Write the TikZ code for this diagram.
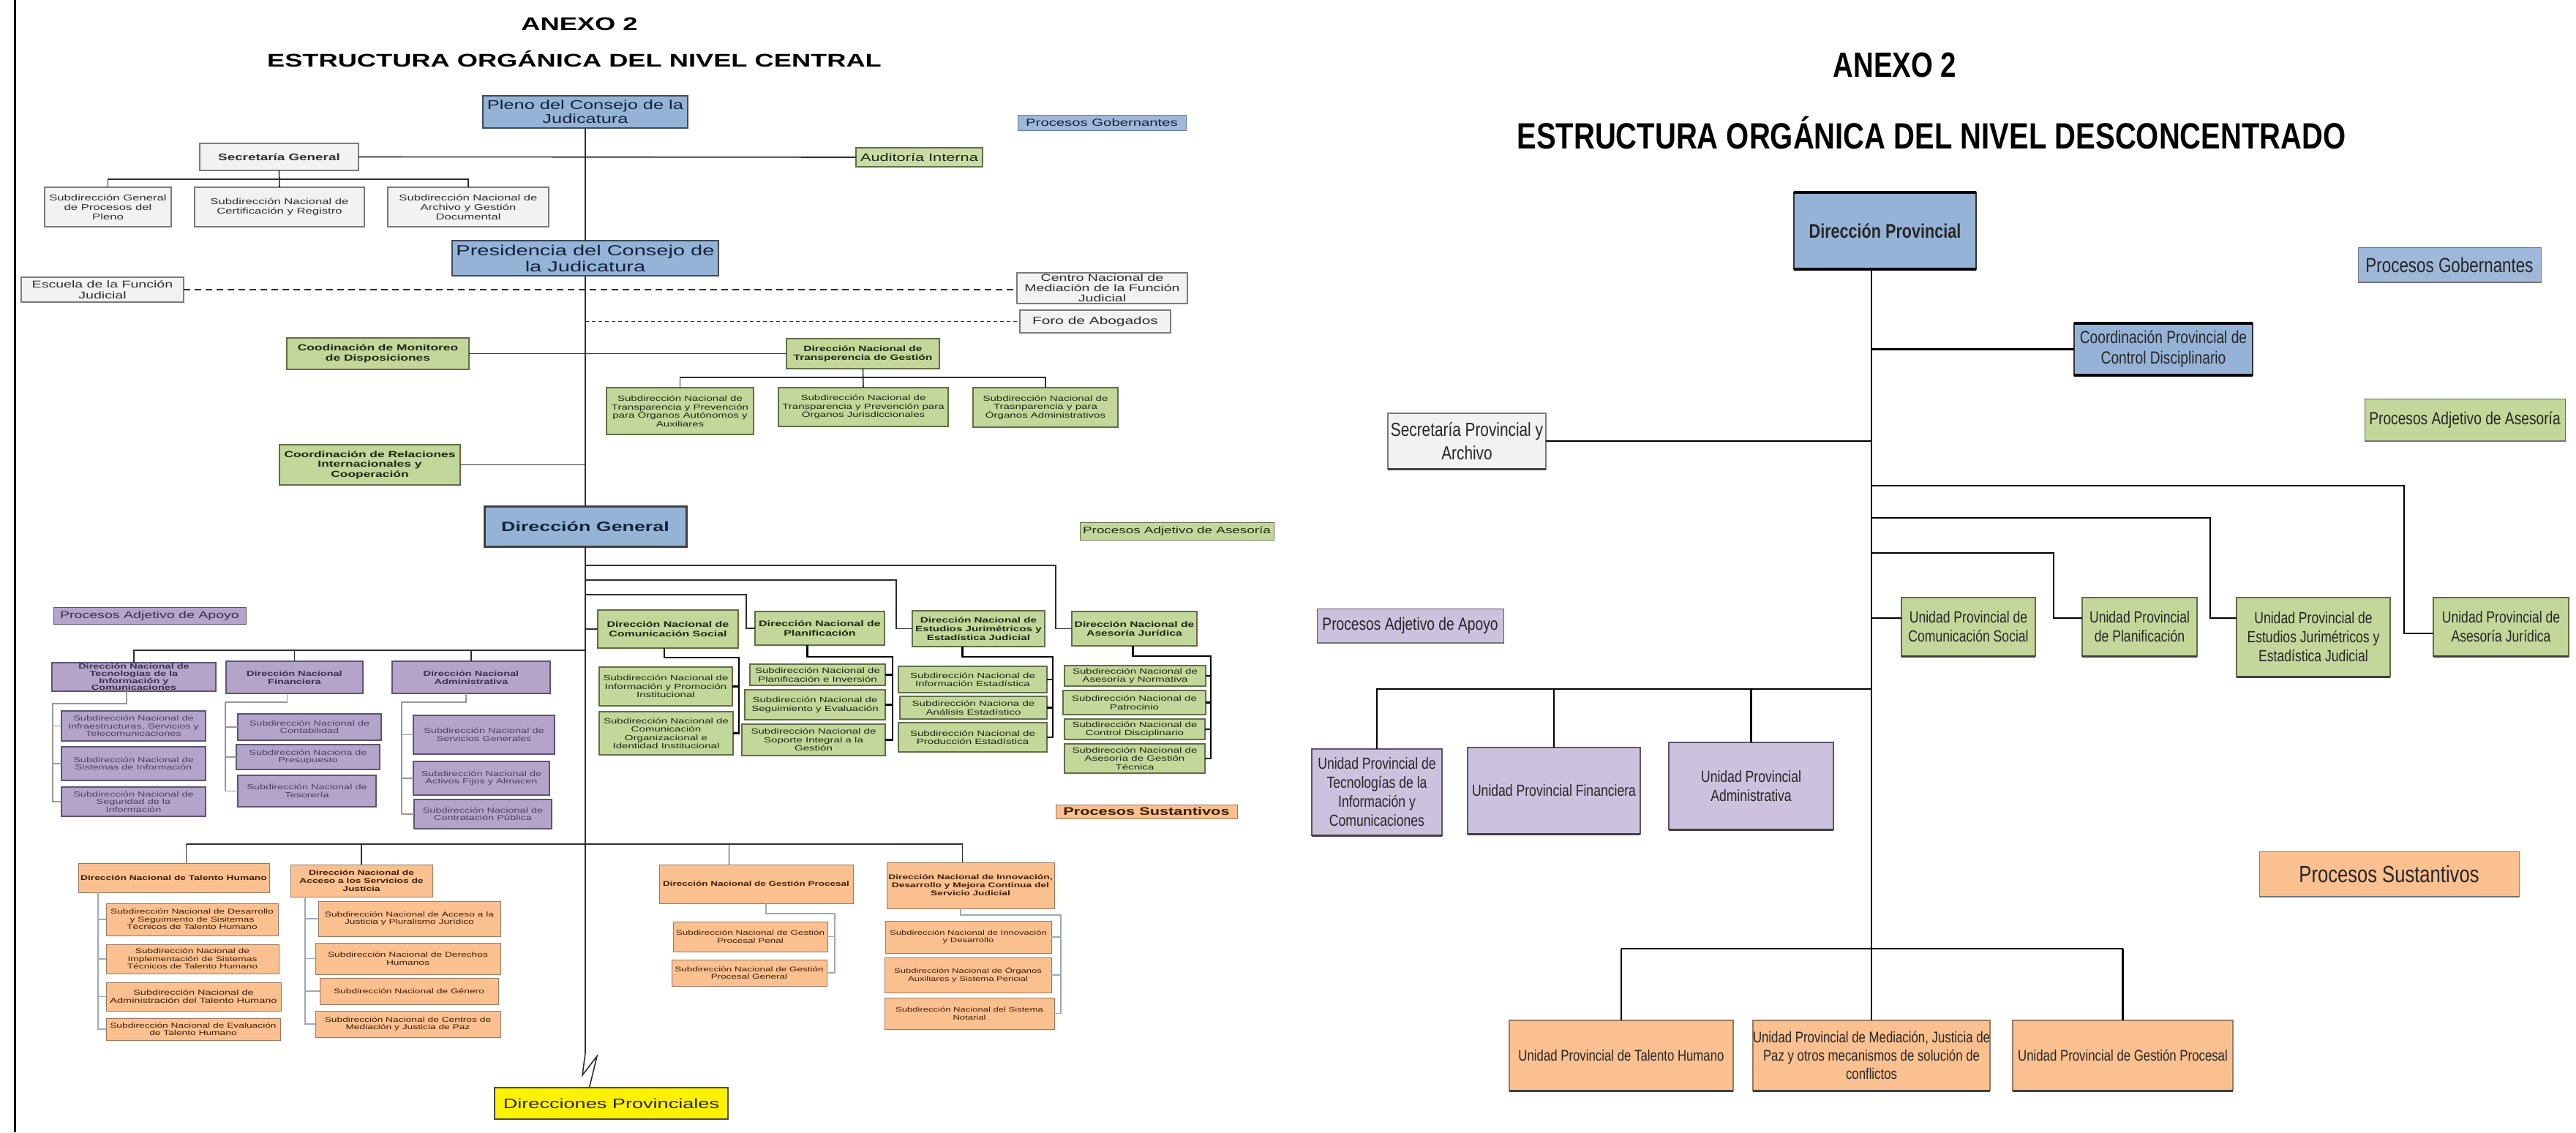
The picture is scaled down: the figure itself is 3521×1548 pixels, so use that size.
\documentclass[tikz,border=0pt]{standalone}
\usepackage{fontspec}
\setmainfont{Liberation Sans}
\newfontfamily\lpfont[FakeStretch=1.45]{Liberation Sans}
\newfontfamily\rpfont[FakeStretch=0.8]{Liberation Sans}
\newcommand\fsz[2]{\fontsize{#1}{#2}\selectfont}
\newcommand\mkbox[7]{\node[#6,minimum width={(#4-#2)*1pt},minimum height={(#5-#3)*1pt}] (#1) at ({(#2+#4)/2},{(#3+#5)/2}) {#7};}
\definecolor{bluF}{HTML}{95B3D7}
\definecolor{bluL}{HTML}{9FB8D9}
\definecolor{bluD}{HTML}{3E4A5C}
\definecolor{bluT}{HTML}{13233A}
\definecolor{grnF}{HTML}{C4D79B}
\definecolor{grnD}{HTML}{5F6F45}
\definecolor{grnT}{HTML}{1D2811}
\definecolor{purF}{HTML}{B4A4C9}
\definecolor{purD}{HTML}{5E5470}
\definecolor{purT}{HTML}{3B2E50}
\definecolor{purS}{HTML}{4F4166}
\definecolor{ornF}{HTML}{FAC090}
\definecolor{ornD}{HTML}{9A7A60}
\definecolor{ornT}{HTML}{3D1E05}
\definecolor{gryF}{HTML}{F2F2F2}
\definecolor{gryD}{HTML}{7A7A7A}
\definecolor{gryT}{HTML}{2E2E2E}
\definecolor{rpurF}{HTML}{CCC2DE}
\definecolor{lineC}{HTML}{2E2E2E}
\definecolor{oline}{HTML}{9AA8BC}
\begin{document}
\begin{tikzpicture}[x=1pt,y=-1pt,
  bxbase/.style={rectangle,align=center,inner sep=1pt,outer sep=0pt},
  gbox/.style={bxbase,fill=gryF,draw=gryD,line width=1.2pt,text=gryT},
  bbox/.style={bxbase,fill=bluF,draw=bluD,line width=2.2pt,text=bluT},
  grbox/.style={bxbase,fill=grnF,draw=grnD,line width=1.2pt,text=grnT},
  pbox/.style={bxbase,fill=purF,draw=purD,line width=1.2pt,text=purT},
  obox/.style={bxbase,fill=ornF,draw=ornD,line width=1pt,text=ornT},
  gsub/.style={grbox,font=\lpfont\fsz{10.4}{11.5}},
  ghead/.style={grbox,font=\lpfont\bfseries\fsz{11}{12.5}},
  phead/.style={pbox,font=\lpfont\bfseries\fsz{10}{9.8}},
  psub/.style={pbox,text=purS,font=\lpfont\fsz{10}{10.5}},
  ohead/.style={obox,font=\lpfont\bfseries\fsz{9.5}{11}},
  osub/.style={obox,font=\lpfont\fsz{9.5}{10.5}},
  graysub/.style={gbox,font=\lpfont\fsz{11.5}{13}},
  rbox/.style={bxbase,line width=1.5pt,text=black!85,font=\rpfont\fsz{22}{26}},
  rb/.style={rbox,fill=bluF,draw=black!80},
  rg/.style={rbox,fill=grnF,draw=grnD},
  rp/.style={rbox,fill=rpurF,draw=purD},
  ro/.style={rbox,fill=ornF,draw=ornD},
  rgy/.style={rbox,fill=gryF,draw=gryD},
  conn/.style={draw=lineC,line width=1.6pt},
  gconn/.style={draw=black,line width=2.2pt},
  lconn/.style={draw=gray!80,line width=1.3pt},
  oconn/.style={draw=oline,line width=1.3pt},
  rconn/.style={draw=black,line width=2.6pt}]
\useasboundingbox (0,0) rectangle (3521,1548);
\fill[white] (0,0) rectangle (3521,1548);
\draw[line width=3pt] (20,0) -- (20,1548);
% ---------------- LEFT PANEL ----------------
\node[font=\lpfont\bfseries\fsz{25}{30}] (anexoL) at (792,33) {ANEXO 2};
\node[font=\lpfont\bfseries\fsz{25}{30}] (titleL) at (785,81) {ESTRUCTURA ORGÁNICA DEL NIVEL CENTRAL};
\mkbox{pleno}{660}{131}{940}{175}{bbox,line width=1.8pt,font=\lpfont\fsz{17.5}{19}}{Pleno del Consejo de la\\Judicatura}
\mkbox{pgob}{1391}{157}{1621}{178}{bxbase,fill=bluL,draw=bluF!70!black,line width=1pt,text=bluT,font=\lpfont\fsz{14}{16}}{Procesos Gobernantes}
\mkbox{sec}{273}{196}{490}{233}{gbox,font=\lpfont\bfseries\fsz{13}{15}}{Secretaría General}
\mkbox{aud}{1170}{202}{1343}{228}{grbox,fill=grnF!90!white,font=\lpfont\fsz{15}{17}}{Auditoría Interna}
\mkbox{s1}{61}{256}{234}{310}{graysub}{Subdirección General\\de Procesos del\\Pleno}
\mkbox{s2}{266}{256}{498}{310}{graysub}{Subdirección Nacional de\\Certificación y Registro}
\mkbox{s3}{530}{256}{750}{310}{graysub}{Subdirección Nacional de\\Archivo y Gestión\\Documental}
\mkbox{pres}{618}{329}{982}{377}{bbox,line width=2.6pt,font=\lpfont\fsz{20}{22}}{Presidencia del Consejo de\\la Judicatura}
\mkbox{esc}{29}{379}{251}{413}{gbox,font=\lpfont\fsz{13.5}{15}}{Escuela de la Función\\Judicial}
\mkbox{cen}{1390}{373}{1623}{415}{gbox,font=\lpfont\fsz{13.5}{14}}{Centro Nacional de\\Mediación de la Función\\Judicial}
\mkbox{foro}{1394}{424}{1600}{455}{gbox,font=\lpfont\fsz{14.4}{16}}{Foro de Abogados}
\mkbox{mon}{392}{462}{641}{505}{grbox,font=\lpfont\bfseries\fsz{12}{13.5}}{Coodinación de Monitoreo\\de Disposiciones}
\mkbox{trans}{1075}{463}{1284}{504}{grbox,font=\lpfont\bfseries\fsz{10.7}{12.5}}{Dirección Nacional de\\Transperencia de Gestión}
\mkbox{t1}{829}{530}{1030}{594}{gsub}{Subdirección Nacional de\\Transparencia y Prevención\\para Órganos Autónomos y\\Auxiliares}
\mkbox{t2}{1064}{530}{1296}{583}{gsub}{Subdirección Nacional de\\Transparencia y Prevención para\\Órganos Jurisdiccionales}
\mkbox{t3}{1330}{530}{1528}{584}{gsub}{Subdirección Nacional de\\Trasnparencia y para\\Órganos Administrativos}
\mkbox{rel}{382}{608}{629}{663}{grbox,font=\lpfont\bfseries\fsz{12}{13.5}}{Coordinación de Relaciones\\Internacionales y\\Cooperación}
\mkbox{dg}{662}{692}{938}{747}{bbox,line width=3pt,draw=black!75,font=\lpfont\bfseries\fsz{18.5}{20}}{Dirección General}
\mkbox{pasL}{1476}{714}{1741}{738}{grbox,line width=1pt,font=\lpfont\fsz{13}{15}}{Procesos Adjetivo de Asesoría}
\mkbox{papL}{73}{830}{336}{853}{pbox,line width=1pt,font=\lpfont\fsz{13.5}{15}}{Procesos Adjetivo de Apoyo}
% green heads
\mkbox{com}{817}{834}{1009}{886}{ghead}{Dirección Nacional de\\Comunicación Social}
\mkbox{pla}{1032}{836}{1209}{882}{ghead}{Dirección Nacional de\\Planificación}
\mkbox{est}{1247}{835}{1428}{884}{ghead,font=\lpfont\bfseries\fsz{10.5}{12.3}}{Dirección Nacional de\\Estudios Jurimétricos y\\Estadística Judicial}
\mkbox{ase}{1465}{836}{1636}{883}{ghead,font=\lpfont\bfseries\fsz{10.8}{12.5}}{Dirección Nacional de\\Asesoría Jurídica}
% green subs
\mkbox{c1}{819}{912}{1001}{965}{gsub}{Subdirección Nacional de\\Información y Promoción\\Institucional}
\mkbox{c2}{819}{973}{1002}{1032}{gsub}{Subdirección Nacional de\\Comunicación\\Organizacional e\\Identidad Institucional}
\mkbox{p1}{1025}{908}{1210}{937}{gsub}{Subdirección Nacional de\\Planificación e Inversión}
\mkbox{p2}{1018}{943}{1210}{984}{gsub}{Subdirección Nacional de\\Seguimiento y Evaluación}
\mkbox{p3}{1014}{990}{1210}{1033}{gsub}{Subdirección Nacional de\\Soporte Integral a la\\Gestión}
\mkbox{e1}{1228}{911}{1431}{947}{gsub}{Subdirección Nacional de\\Información Estadística}
\mkbox{e2}{1230}{952}{1431}{983}{gsub}{Subdirección Naciona de\\Análisis Estadístico}
\mkbox{e3}{1228}{988}{1431}{1028}{gsub}{Subdirección Nacional de\\Producción Estadística}
\mkbox{a1}{1455}{910}{1648}{938}{gsub}{Subdirección Nacional de\\Asesoría y Normativa}
\mkbox{a2}{1453}{944}{1648}{977}{gsub}{Subdirección Nacional de\\Patrocinio}
\mkbox{a3}{1455}{983}{1647}{1011}{gsub}{Subdirección Nacional de\\Control Disciplinario}
\mkbox{a4}{1455}{1017}{1647}{1057}{gsub}{Subdirección Nacional de\\Asesoría de Gestión\\Técnica}
% purple
\mkbox{tic}{71}{906}{295}{945}{phead}{Dirección Nacional de\\Tecnologías de la\\Información y\\Comunicaciones}
\mkbox{fin}{309}{904}{496}{948}{phead,font=\lpfont\bfseries\fsz{10}{11}}{Dirección Nacional\\Financiera}
\mkbox{adm}{536}{904}{752}{948}{phead,font=\lpfont\bfseries\fsz{10}{11}}{Dirección Nacional\\Administrativa}
\mkbox{i1}{84}{972}{281}{1013}{psub}{Subdirección Nacional de\\Infraestructuras, Servicios y\\Telecomunicaciones}
\mkbox{i2}{84}{1021}{281}{1067}{psub}{Subdirección Nacional de\\Sistemas de Información}
\mkbox{i3}{84}{1076}{281}{1116}{psub}{Subdirección Nacional de\\Seguridad de la\\Información}
\mkbox{f1}{325}{976}{521}{1012}{psub}{Subdirección Nacional de\\Contabilidad}
\mkbox{f2}{323}{1018}{519}{1052}{psub}{Subdirección Naciona de\\Presupuesto}
\mkbox{f3}{325}{1060}{514}{1103}{psub}{Subdirección Nacional de\\Tesorería}
\mkbox{d1}{565}{978}{758}{1031}{psub}{Subdirección Nacional de\\Servicios Generales}
\mkbox{d2}{565}{1041}{751}{1087}{psub}{Subdirección Nacional de\\Activos Fijos y Almacen}
\mkbox{d3}{566}{1093}{754}{1133}{psub}{Subdirección Nacional de\\Contratación Pública}
% orange
\mkbox{pSusL}{1443}{1100}{1691}{1119}{obox,font=\lpfont\bfseries\fsz{15}{16}}{Procesos Sustantivos}
\mkbox{th}{107}{1180}{368}{1220}{ohead}{Dirección Nacional de Talento Humano}
\mkbox{acc}{397}{1182}{591}{1226}{ohead}{Dirección Nacional de\\Acceso a los Servicios de\\Justicia}
\mkbox{gp}{901}{1182}{1166}{1235}{ohead,font=\lpfont\bfseries\fsz{9.3}{11}}{Dirección Nacional de Gestión Procesal}
\mkbox{inn}{1212}{1179}{1441}{1242}{ohead}{Dirección Nacional de Innovación,\\Desarrollo y Mejora Continua del\\Servicio Judicial}
\mkbox{o1}{145}{1235}{380}{1279}{osub}{Subdirección Nacional de Desarrollo\\y Seguimiento de Sisitemas\\Técnicos de Talento Humano}
\mkbox{o2}{145}{1291}{381}{1331}{osub}{Subdirección Nacional de\\Implementación de Sistemas\\Técnicos de Talento Humano}
\mkbox{o3}{145}{1343}{384}{1382}{osub,font=\lpfont\fsz{10}{11.5}}{Subdirección Nacional de\\Administración del Talento Humano}
\mkbox{o4}{145}{1392}{383}{1422}{osub}{Subdirección Nacional de Evaluación\\de Talento Humano}
\mkbox{o5}{435}{1232}{684}{1280}{osub}{Subdirección Nacional de Acceso a la\\Justicia y Pluralismo Jurídico}
\mkbox{o6}{431}{1289}{684}{1332}{osub}{Subdirección Nacional de Derechos\\Humanos}
\mkbox{o7}{437}{1337}{681}{1373}{osub}{Subdirección Nacional de Género}
\mkbox{o8}{431}{1382}{684}{1418}{osub}{Subdirección Nacional de Centros de\\Mediación y Justicia de Paz}
\mkbox{g1}{920}{1260}{1131}{1301}{osub,font=\lpfont\fsz{9.3}{10.5}}{Subdirección Nacional de Gestión\\Procesal Penal}
\mkbox{g2}{918}{1312}{1130}{1348}{osub,font=\lpfont\fsz{9.3}{10.5}}{Subdirección Nacional de Gestión\\Procesal General}
\mkbox{n1}{1210}{1259}{1437}{1303}{osub,font=\lpfont\fsz{9}{10.5}}{Subdirección Nacional de Innovación\\y Desarrollo}
\mkbox{n2}{1209}{1309}{1437}{1357}{osub,font=\lpfont\fsz{9}{10.5}}{Subdirección Nacional de Órganos\\Auxiliares y Sistema Pericial}
\mkbox{n3}{1209}{1364}{1441}{1407}{osub,font=\lpfont\fsz{9}{10.5}}{Subdirección Nacional del Sistema\\Notarial}
\mkbox{dp}{676}{1487}{995}{1530}{bxbase,fill=yellow,draw=black!70,line width=1.6pt,text=black!85,font=\lpfont\fsz{18.7}{20}}{Direcciones Provinciales}
% ---- left connectors ----
\draw[conn] (pleno.south) -- (pres.north);
\draw[conn] (pres.south) -- (dg.north);
\draw[conn] (sec.east) -- (aud.west);
\draw[conn] (sec.south) -- ++(0,12) -| (s1.north);
\draw[conn] (sec.south) -- ++(0,12) -| (s3.north);
\draw[conn] (sec.south) -- (s2.north);
\draw[conn,dash pattern=on 9pt off 6pt] (esc.east) -- (esc.east -| cen.west);
\draw[conn,line width=1.3pt,dash pattern=on 5pt off 4pt] (foro.west -| dg.north) -- (foro.west);
\draw[conn] (mon.east) -- (mon.east -| trans.west);
\draw[conn] (trans.south) -- ++(0,12) -| (t1.north);
\draw[conn] (trans.south) -- ++(0,12) -| (t3.north);
\draw[conn] (trans.south) -- (t2.north);
\draw[conn] (rel.east) -- (rel.east -| dg.north);
\coordinate (hA) at (0,773);
\coordinate (hB) at (0,793);
\coordinate (hC) at (0,813);
\coordinate (hP) at (0,889);
\coordinate (hO) at (0,1154);
\coordinate (asev) at ([xshift=-22pt]ase.west);
\coordinate (estv) at ([xshift=-22pt]est.west);
\coordinate (plav) at ([xshift=-12pt]pla.west);
\draw[conn] (dg.south |- hA) -| (asev) -- (ase.west);
\draw[conn] (dg.south |- hB) -| (estv) -- (est.west);
\draw[conn] (dg.south |- hC) -| (plav) -- (pla.west);
\draw[conn] (com.west -| dg.south) -- (com.west);
\draw[conn] (dg.south |- hP) -| (tic.north);
\draw[conn] (dg.south |- hP) -| (fin.north);
\draw[conn] (dg.south |- hP) -| (adm.north);
\coordinate (brk) at (800,1440);
\coordinate (dpin) at ([xshift=-30pt]dp.north);
\draw[conn] (dg.south) -- (brk) -- ++(-4,30) -- ++(20,-26) -- (dpin);
% orange main bar
\coordinate (thd) at ([xshift=17pt]th.north);
\coordinate (gpd) at ([xshift=-37pt]gp.north);
\coordinate (innd) at ([xshift=-11pt]inn.north);
\draw[conn] (thd |- hO) -- (innd |- hO);
\draw[conn] (thd |- hO) -- (thd);
\draw[conn] (acc.north |- hO) -- (acc.north);
\draw[conn] (gpd |- hO) -- (gpd);
\draw[conn] (innd |- hO) -- (innd);
% green subtrees
\coordinate (comd) at ([xshift=-5pt]com.south);
\coordinate (comv) at ([xshift=8pt]c2.east);
\draw[gconn] (comd) -- ++(0,13) -| (comv) -- (c2.east);
\draw[gconn] (comv |- c1.east) -- (c1.east);
\coordinate (plad) at ([xshift=-17pt]pla.south);
\coordinate (plsv) at ([xshift=10pt]p3.east);
\draw[gconn] (plad) -- ++(0,16) -| (plsv) -- (p3.east);
\draw[gconn] (plsv |- p1.east) -- (p1.east);
\draw[gconn] (plsv |- p2.east) -- (p2.east);
\coordinate (estd) at ([xshift=-22pt]est.south);
\coordinate (essv) at ([xshift=8pt]e3.east);
\draw[gconn] (estd) -- ++(0,14) -| (essv) -- (e3.east);
\draw[gconn] (essv |- e1.east) -- (e1.east);
\draw[gconn] (essv |- e2.east) -- (e2.east);
\coordinate (ased) at ([xshift=-2pt]ase.south);
\coordinate (assv) at ([xshift=8pt]a4.east);
\draw[gconn] (ased) -- ++(0,14) -| (assv) -- (a4.east);
\draw[gconn] (assv |- a1.east) -- (a1.east);
\draw[gconn] (assv |- a2.east) -- (a2.east);
\draw[gconn] (assv |- a3.east) -- (a3.east);
% purple subtrees
\coordinate (ticd) at ([xshift=-10pt]tic.south);
\coordinate (ticv) at ([xshift=-12pt]i3.west);
\draw[lconn] (ticd) -- ++(0,17) -| (ticv) -- (i3.west);
\draw[lconn] (ticv |- i1.west) -- (i1.west);
\draw[lconn] (ticv |- i2.west) -- (i2.west);
\coordinate (find) at ([xshift=-10pt]fin.south);
\coordinate (finv) at ([xshift=-17pt]f3.west);
\draw[lconn] (find) -- ++(0,12) -| (finv) -- (f3.west);
\draw[lconn] (finv |- f1.west) -- (f1.west);
\draw[lconn] (finv |- f2.west) -- (f2.west);
\coordinate (admd) at ([xshift=-7pt]adm.south);
\coordinate (admv) at ([xshift=-17pt]d3.west);
\draw[lconn] (admd) -- ++(0,12) -| (admv) -- (d3.west);
\draw[lconn] (admv |- d1.west) -- (d1.west);
\draw[lconn] (admv |- d2.west) -- (d2.west);
% orange subtrees
\coordinate (thv) at ([xshift=27pt]th.south west);
\draw[oconn] (thv) -- (thv |- o4.west) -- (o4.west);
\draw[oconn] (thv |- o1.west) -- (o1.west);
\draw[oconn] (thv |- o2.west) -- (o2.west);
\draw[oconn] (thv |- o3.west) -- (o3.west);
\coordinate (accv) at ([xshift=20pt]acc.south west);
\draw[oconn] (accv) -- (accv |- o8.west) -- (o8.west);
\draw[oconn] (accv |- o5.west) -- (o5.west);
\draw[oconn] (accv |- o6.west) -- (o6.west);
\draw[oconn] (accv |- o7.west) -- (o7.west);
\coordinate (gpdd) at ([xshift=13.5pt]gp.south);
\coordinate (gpv) at ([xshift=11pt]g2.east);
\draw[oconn] (gpdd) -- ++(0,14) -| (gpv) -- (g2.east);
\draw[oconn] (gpv |- g1.east) -- (g1.east);
\coordinate (inndd) at ([xshift=-13.5pt]inn.south);
\coordinate (innv) at ([xshift=9pt]n3.east);
\draw[oconn] (inndd) -- ++(0,9) -| (innv) -- (n3.east);
\draw[oconn] (innv |- n1.east) -- (n1.east);
\draw[oconn] (innv |- n2.east) -- (n2.east);
% ---------------- RIGHT PANEL ----------------
\node[font=\rpfont\bfseries\fsz{48}{50}] (anexoR) at (2590,89) {ANEXO 2};
\node[font=\rpfont\bfseries\fsz{50}{52}] (titleR) at (2640,182) {ESTRUCTURA ORGÁNICA DEL NIVEL DESCONCENTRADO};
\mkbox{dprov}{2452}{263}{2701}{368}{rb,font=\rpfont\bfseries\fsz{27}{30}}{Dirección Provincial}
\mkbox{rpg}{3223}{338}{3473}{386}{rb,fill=bluL,draw=bluF!70!black,line width=1pt,font=\rpfont\fsz{28}{30}}{Procesos Gobernantes}
\mkbox{cpcd}{2835}{442}{3079}{513}{rb,font=\rpfont\fsz{24}{28}}{Coordinación Provincial de\\Control Disciplinario}
\mkbox{spa}{1897}{565}{2113}{641}{rgy,font=\rpfont\fsz{26}{32}}{Secretaría Provincial y\\Archivo}
\mkbox{rpas}{3232}{545}{3506}{603}{rg,line width=1pt,font=\rpfont\fsz{24}{26}}{Procesos Adjetivo de Asesoría}
\mkbox{rcom}{2599}{817}{2782}{897}{rg}{Unidad Provincial de\\Comunicación Social}
\mkbox{rpla}{2846}{817}{3003}{897}{rg}{Unidad Provincial\\de Planificación}
\mkbox{rest}{3057}{817}{3267}{925}{rg}{Unidad Provincial de\\Estudios Jurimétricos y\\Estadística Judicial}
\mkbox{rase}{3326}{817}{3511}{897}{rg}{Unidad Provincial de\\Asesoría Jurídica}
\mkbox{rpap}{1800}{832}{2055}{879}{rp,line width=1pt,font=\rpfont\fsz{24}{26}}{Procesos Adjetivo de Apoyo}
\mkbox{rtec}{1793}{1024}{1971}{1142}{rp}{Unidad Provincial de\\Tecnologías de la\\Información y\\Comunicaciones}
\mkbox{rfin}{2006}{1022}{2242}{1140}{rp}{Unidad Provincial Financiera}
\mkbox{radm}{2281}{1015}{2506}{1134}{rp}{Unidad Provincial\\Administrativa}
\mkbox{rsus}{3088}{1164}{3443}{1226}{ro,line width=1pt,font=\rpfont\fsz{32}{34}}{Procesos Sustantivos}
\mkbox{rth}{2063}{1395}{2369}{1491}{ro,font=\rpfont\fsz{21}{25}}{Unidad Provincial de Talento Humano}
\mkbox{rmed}{2396}{1395}{2720}{1491}{ro,inner sep=0pt,font=\rpfont\fsz{21}{25}}{Unidad Provincial de Mediación, Justicia de\\Paz y otros mecanismos de solución de\\conflictos}
\mkbox{rgp}{2751}{1395}{3052}{1491}{ro,font=\rpfont\fsz{21}{25}}{Unidad Provincial de Gestión Procesal}
\foreach \n in {rcom,rpla,rest,rase,rtec,rfin,radm,rth,rmed,rgp,spa}
  \draw[line width=3pt,black!75] (\n.south west) -- (\n.south east);
\foreach \n in {rpg,rpas,rpap,rsus}
  \draw[line width=2pt,black!55] (\n.south west) -- (\n.south east);
\foreach \n in {dprov,cpcd}
  \draw[line width=3.5pt,black] (\n.north west) -- (\n.north east) (\n.south west) -- (\n.south east);
% ---- right connectors ----
\coordinate (rtr) at (dprov.south -| rmed.north);
\draw[rconn] (rtr) -- (rmed.north);
\draw[rconn] (cpcd.west -| rmed.north) -- (cpcd.west);
\draw[rconn] (spa.east) -- (spa.east -| rmed.north);
\coordinate (rh1) at (0,664);
\coordinate (rh2) at (0,708);
\coordinate (rh3) at (0,756);
\coordinate (rhp) at (0,942);
\coordinate (rho) at (0,1297);
\coordinate (rasei) at ([yshift=-9pt]rase.west);
\coordinate (rasev) at ([xshift=-40pt]rasei);
\draw[rconn] (rmed.north |- rh1) -| (rasev) -- (rasei);
\coordinate (resti) at ([yshift=26pt]rest.west);
\coordinate (restv) at ([xshift=-36pt]resti);
\draw[rconn] (rmed.north |- rh2) -| (restv) -- (resti);
\coordinate (rplai) at ([yshift=12pt]rpla.west);
\coordinate (rplav) at ([xshift=-39pt]rplai);
\draw[rconn] (rmed.north |- rh3) -| (rplav) -- (rplai);
\coordinate (rcomi) at ([yshift=12pt]rcom.west);
\draw[rconn] (rcomi -| rmed.north) -- (rcomi);
\draw[rconn] (rmed.north |- rhp) -| (rtec.north);
\draw[rconn] (rmed.north |- rhp) -| (rfin.north);
\draw[rconn] (rmed.north |- rhp) -| (radm.north);
\draw[rconn] (rth.north |- rho) -- (rgp.north |- rho);
\draw[rconn] (rth.north |- rho) -- (rth.north);
\draw[rconn] (rgp.north |- rho) -- (rgp.north);
\end{tikzpicture}
\end{document}
